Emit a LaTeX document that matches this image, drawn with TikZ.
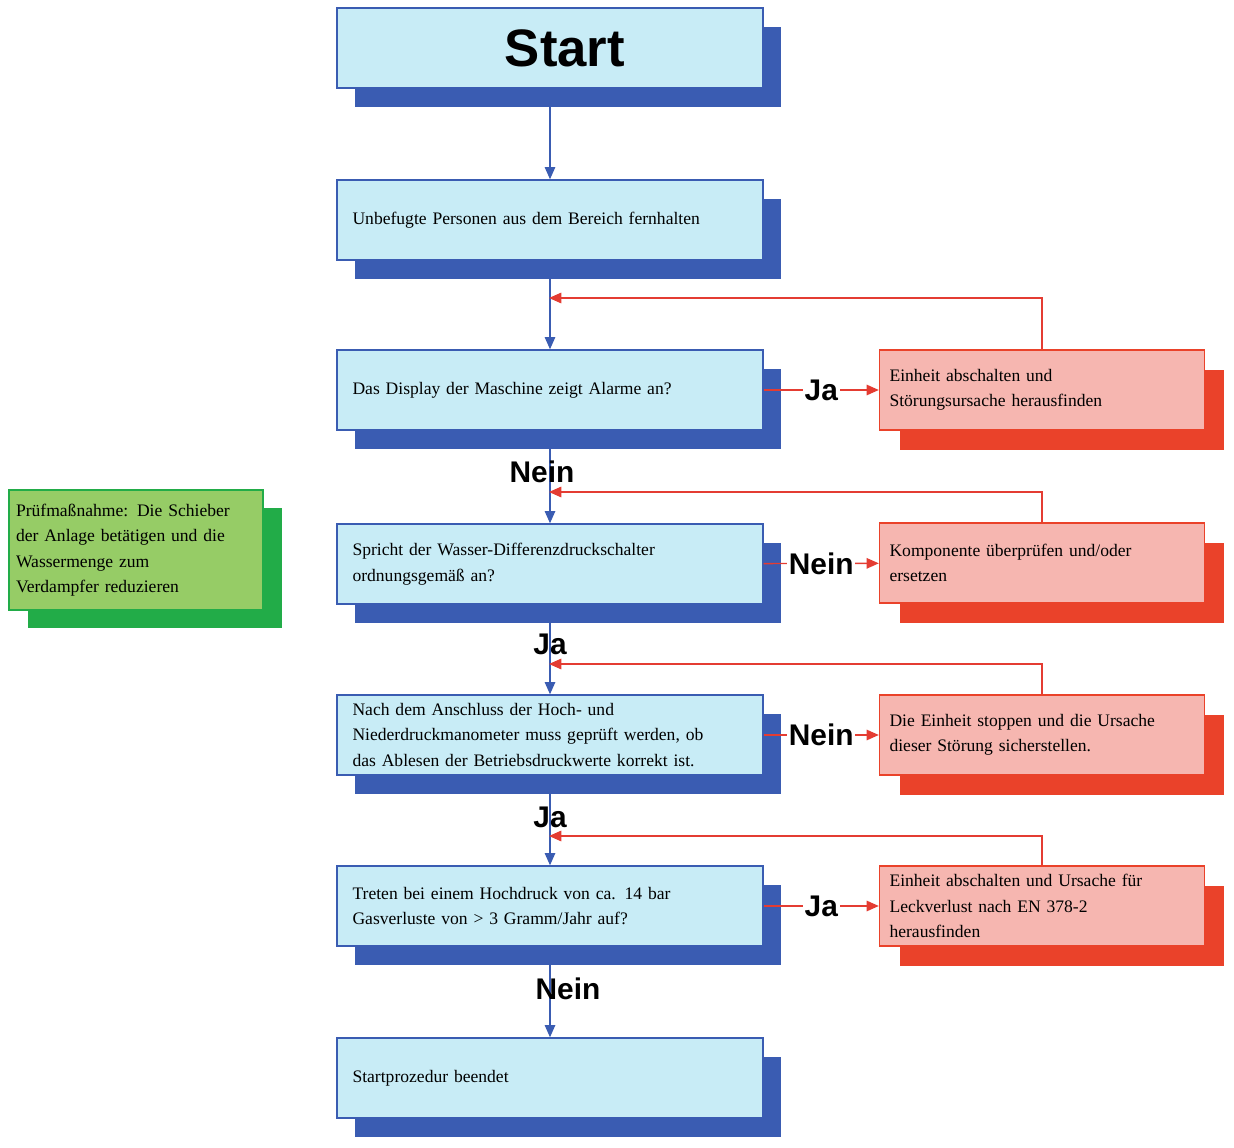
\documentclass[tikz,border=0pt]{standalone}
\usepackage{fontspec}
\setmainfont{Liberation Serif}
\newfontfamily\labelfont{Liberation Sans}
\usetikzlibrary{shadows,arrows.meta}
\definecolor{boxblue}{RGB}{200,236,246}
\definecolor{shadeblue}{RGB}{58,92,178}
\definecolor{boxred}{RGB}{246,182,176}
\definecolor{shadered}{RGB}{234,66,42}
\definecolor{boxgreen}{RGB}{150,204,102}
\definecolor{shadegreen}{RGB}{34,172,72}
\definecolor{linered}{RGB}{228,60,50}
\tikzset{
  stage/.style={draw=shadeblue,fill=boxblue,thick,minimum width=8.52cm,minimum height=1.6cm,
    text width=7.9cm,align=left,font=\fontsize{10}{14.5}\selectfont,
    drop shadow={shadow xshift=0.36cm,shadow yshift=-0.38cm,fill=shadeblue,opacity=1}},
  fix/.style={draw=shadered,fill=boxred,thick,minimum width=6.5cm,minimum height=1.6cm,
    text width=6.1cm,align=left,font=\fontsize{10}{14.5}\selectfont,
    drop shadow={shadow xshift=0.4cm,shadow yshift=-0.4cm,fill=shadered,opacity=1}},
  note/.style={draw=shadegreen,fill=boxgreen,thick,minimum width=5.08cm,minimum height=2.4cm,
    text width=4.8cm,align=left,font=\fontsize{10}{14.5}\selectfont,
    drop shadow={shadow xshift=0.38cm,shadow yshift=-0.36cm,fill=shadegreen,opacity=1}},
  answer/.style={font=\labelfont\bfseries\fontsize{17}{17}\selectfont,inner sep=1pt},
  down/.style={draw=shadeblue,thick,-{Triangle[length=7pt,width=6pt]}},
  back/.style={draw=linered,thick,-{Triangle[length=7pt,width=6pt]}}
}
\begin{document}
\begin{tikzpicture}[x=0.02cm,y=-0.02cm]
  \useasboundingbox (0,0) rectangle (1234,1148);
  \node[stage,align=center,font=\labelfont\bfseries\fontsize{30}{30}\selectfont] (start) at (550,48) {\hspace*{0.6cm}Start};
  \node[stage] (b1) at (550,220) {Unbefugte Personen aus dem Bereich fernhalten};
  \node[stage] (b2) at (550,390) {Das Display der Maschine zeigt Alarme an?};
  \node[stage] (b3) at (550,564) {Spricht der Wasser-Differenzdruckschalter\\ordnungsgemäß an?};
  \node[stage] (b4) at (550,735) {Nach dem Anschluss der Hoch- und\\Niederdruckmanometer muss geprüft werden, ob\\das Ablesen der Betriebsdruckwerte korrekt ist.};
  \node[stage] (b5) at (550,906) {Treten bei einem Hochdruck von ca. 14 bar\\Gasverluste von > 3 Gramm/Jahr auf?};
  \node[stage] (b6) at (550,1078) {Startprozedur beendet};
  \node[fix] (r1) at (1042,390) {Einheit abschalten und\\Störungsursache herausfinden};
  \node[fix] (r2) at (1042,563) {Komponente überprüfen und/oder\\ersetzen};
  \node[fix] (r3) at (1042,735) {Die Einheit stoppen und die Ursache\\dieser Störung sicherstellen.};
  \node[fix] (r4) at (1042,906) {Einheit abschalten und Ursache für\\Leckverlust nach EN 378-2\\herausfinden};
  \node[note] (g1) at (136,550) {Prüfmaßnahme: Die Schieber\\der Anlage betätigen und die\\Wassermenge zum\\Verdampfer reduzieren};
  % joins of the loops
  \coordinate (j1) at (549,298);
  \coordinate (j2) at (549,492);
  \coordinate (j3) at (549,664);
  \coordinate (j4) at (549,836);
  \draw[down] (start) -- (b1);
  \draw[down] (b1) -- (b2);
  \draw[down] (b2) -- node[answer,pos=0.44,xshift=-0.16cm]{Nein} (b3);
  \draw[down] (b3) -- node[answer,pos=0.44]{Ja} (b4);
  \draw[down] (b4) -- node[answer,pos=0.46]{Ja} (b5);
  \draw[down] (b5) -- node[answer,pos=0.46,xshift=0.36cm]{Nein} (b6);
  \draw[back] (b2) -- node[answer,fill=white]{Ja} (r1);
  \draw[back] (b3) -- node[answer,fill=white]{Nein} (r2);
  \draw[back] (b4) -- node[answer,fill=white]{Nein} (r3);
  \draw[back] (b5) -- node[answer,fill=white]{Ja} (r4);
  \draw[back] (r1.north) |- (j1);
  \draw[back] (r2.north) |- (j2);
  \draw[back] (r3.north) |- (j3);
  \draw[back] (r4.north) |- (j4);
\end{tikzpicture}
\end{document}
